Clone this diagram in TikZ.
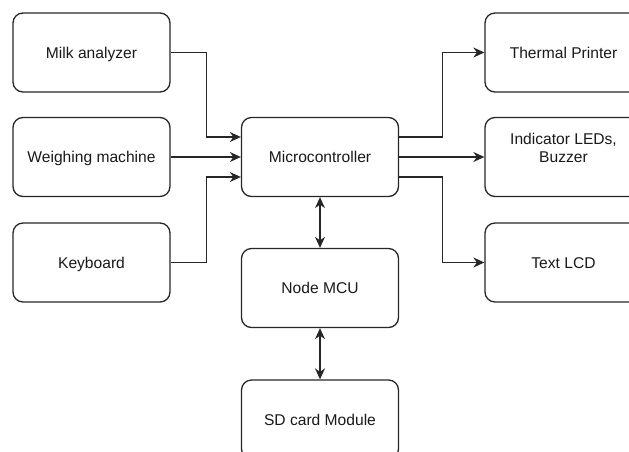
\documentclass[tikz,border=0pt]{standalone}
\usepackage{fontspec}
\setmainfont{Liberation Sans}
\usetikzlibrary{arrows.meta}
\begin{document}
\begin{tikzpicture}[x=1pt,y=-1pt,
  blk/.style={draw=black!85, line width=1.3pt, rounded corners=10pt, minimum width=157pt, minimum height=79pt, inner sep=0pt, align=center, text height=11.2pt, text depth=0pt, font=\fontsize{15.6}{18}\selectfont, text=black!90},
  arr/.style={draw=black!85, line width=1.3pt, -{Stealth[length=11pt,width=10pt,inset=3.5pt]}},
  arrb/.style={draw=black!85, line width=1.3pt, {Stealth[length=11pt,width=10pt,inset=3.5pt]}-{Stealth[length=11pt,width=10pt,inset=3.5pt]}}]
\useasboundingbox (0,0) rectangle (629,451);
\clip (0,0) rectangle (629,451);
\node[blk] (milk) at (91.5,52.5) {Milk analyzer};
\node[blk] (weigh) at (91.5,157) {Weighing machine};
\node[blk] (key) at (91.5,262.5) {Keyboard};
\node[blk] (mc) at (320,157) {Microcontroller};
\node[blk] (nmcu) at (320,288) {Node MCU};
\node[blk] (sd) at (320,419.5) {SD card Module};
\node[blk] (tp) at (563.5,52.5) {Thermal Printer};
\node[blk] (led) at (563.5,157) {Indicator LEDs,\\Buzzer};
\node[blk] (lcd) at (563.5,262.5) {Text LCD};
\draw[arr] (milk.east) -- ++(36,0) |- ([yshift=20pt]mc.west);
\draw[arr] (weigh.east) -- (mc.west);
\draw[arr] (key.east) -- ++(36,0) |- ([yshift=-20pt]mc.west);
\draw[arr] ([yshift=20pt]mc.east) -- ++(43,0) |- (tp.west);
\draw[arr] (mc.east) -- (led.west);
\draw[arr] ([yshift=-20pt]mc.east) -- ++(43,0) |- (lcd.west);
\draw[arrb] (mc.south) -- (nmcu.north);
\draw[arrb] (nmcu.south) -- (sd.north);
\end{tikzpicture}
\end{document}
